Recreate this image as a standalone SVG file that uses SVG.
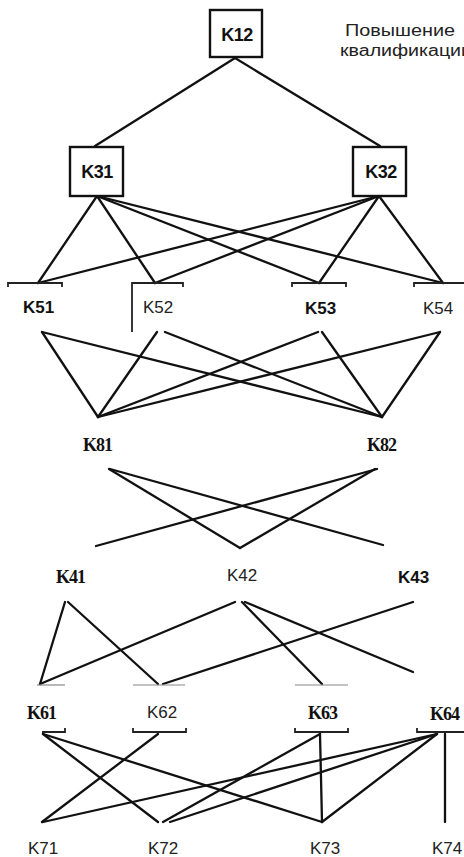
<svg xmlns="http://www.w3.org/2000/svg" width="464" height="857" viewBox="0 0 464 857">
<style>
.ln{stroke:#111;stroke-width:2.3;fill:none;stroke-linecap:round}
.br{stroke:#222;stroke-width:1.8;fill:none}
.brf{stroke:#888;stroke-width:1.2;fill:none}
.box{fill:#fff;stroke:#111;stroke-width:2.4}
.bx{font-family:"Liberation Sans",Arial,sans-serif;font-weight:bold;font-size:18px;fill:#111;letter-spacing:-0.5px}
.sb{font-family:"Liberation Sans",Arial,sans-serif;font-weight:bold;font-size:17px;fill:#111}
.sr{font-family:"Liberation Sans",Arial,sans-serif;font-size:17px;fill:#222}
.tb{font-family:"Liberation Serif","Times New Roman",serif;font-weight:bold;font-size:18px;fill:#111;letter-spacing:-1px}
.cap{font-family:"Liberation Sans",Arial,sans-serif;font-size:16px;fill:#222}
</style>
<rect width="464" height="857" fill="#fff"/>
<g id="connectors">
<line class="ln" x1="235" y1="58" x2="95" y2="146"/>
<line class="ln" x1="235" y1="58" x2="380" y2="146"/>
<line class="ln" x1="97" y1="196" x2="38" y2="283"/>
<line class="ln" x1="97" y1="196" x2="155" y2="283"/>
<line class="ln" x1="97" y1="196" x2="319" y2="283"/>
<line class="ln" x1="97" y1="196" x2="443" y2="283"/>
<line class="ln" x1="379" y1="196" x2="38" y2="283"/>
<line class="ln" x1="379" y1="196" x2="155" y2="283"/>
<line class="ln" x1="379" y1="196" x2="319" y2="283"/>
<line class="ln" x1="379" y1="196" x2="443" y2="283"/>
<line class="ln" x1="42" y1="332" x2="98" y2="417"/>
<line class="ln" x1="42" y1="332" x2="382" y2="417"/>
<line class="ln" x1="157" y1="332" x2="98" y2="417"/>
<line class="ln" x1="165" y1="332" x2="382" y2="417"/>
<line class="ln" x1="318" y1="332" x2="98" y2="417"/>
<line class="ln" x1="322" y1="332" x2="382" y2="417"/>
<line class="ln" x1="440" y1="332" x2="98" y2="417"/>
<line class="ln" x1="440" y1="332" x2="382" y2="417"/>
<line class="ln" x1="109" y1="469" x2="240" y2="548"/>
<line class="ln" x1="110" y1="469" x2="383" y2="545"/>
<line class="ln" x1="377" y1="469" x2="96" y2="546"/>
<line class="ln" x1="375" y1="469" x2="240" y2="548"/>
<line class="ln" x1="65" y1="602" x2="40" y2="684"/>
<line class="ln" x1="68" y1="602" x2="158" y2="684"/>
<line class="ln" x1="235" y1="602" x2="40" y2="684"/>
<line class="ln" x1="242" y1="602" x2="322" y2="684"/>
<line class="ln" x1="245" y1="602" x2="413" y2="672"/>
<line class="ln" x1="413" y1="602" x2="163" y2="684"/>
<line class="ln" x1="43" y1="734" x2="158" y2="822"/>
<line class="ln" x1="43" y1="734" x2="322" y2="822"/>
<line class="ln" x1="158" y1="734" x2="42" y2="822"/>
<line class="ln" x1="320" y1="734" x2="163" y2="822"/>
<line class="ln" x1="320" y1="734" x2="322" y2="822"/>
<line class="ln" x1="437" y1="734" x2="43" y2="822"/>
<line class="ln" x1="437" y1="734" x2="170" y2="822"/>
<line class="ln" x1="437" y1="734" x2="322" y2="822"/>
<line class="ln" x1="445" y1="734" x2="445" y2="822"/>
</g>
<g id="caption">
<text class="cap" x="345" y="36" textLength="110" lengthAdjust="spacingAndGlyphs">Повышение</text>
<text class="cap" x="340" y="56" textLength="132" lengthAdjust="spacingAndGlyphs">квалификации</text>
</g>
<g id="K12"><rect class="box" x="210" y="10" width="52" height="47"/><text class="bx" x="237" y="41" text-anchor="middle">K12</text></g>
<g id="K31"><rect class="box" x="70" y="147" width="53" height="49"/><text class="bx" x="97" y="178" text-anchor="middle">K31</text></g>
<g id="K32"><rect class="box" x="353" y="147" width="53" height="49"/><text class="bx" x="381" y="178" text-anchor="middle">K32</text></g>
<g id="K51"><path class="br" d="M8,287 V283 H62 V287"/><text class="sb" x="23" y="313">K51</text></g>
<g id="K52"><path class="br" d="M183,287 V283 H132 V332"/><text class="sr" x="143" y="313">K52</text></g>
<g id="K53"><path class="br" d="M292,287 V283 H346 V287"/><text class="sb" x="305" y="314">K53</text></g>
<g id="K54"><path class="br" d="M414,287 V283 H464"/><text class="sr" x="423" y="314">K54</text></g>
<g id="K81"><text class="tb" x="83" y="451">K81</text></g>
<g id="K82"><text class="tb" x="367" y="451">K82</text></g>
<g id="K41"><text class="tb" x="56" y="583">K41</text></g>
<g id="K42"><text class="sr" x="227" y="581">K42</text></g>
<g id="K43"><text class="sb" x="398" y="583">K43</text></g>
<g id="K61"><path class="brf" d="M37,685 H65"/><path class="br" d="M42,732 H65 V728"/><text class="tb" x="27" y="719">K61</text></g>
<g id="K62"><path class="brf" d="M133,685 H185"/><path class="br" d="M133,728 V732 H186 V728"/><text class="sr" x="147" y="718">K62</text></g>
<g id="K63"><path class="brf" d="M295,685 H348"/><path class="br" d="M295,728 V732 H348 V728"/><text class="tb" x="308" y="719">K63</text></g>
<g id="K64"><path class="br" d="M417,728 V732 H464"/><text class="tb" x="430" y="720">K64</text></g>
<g id="K71"><text class="sr" x="28" y="854">K71</text></g>
<g id="K72"><text class="sr" x="148" y="854">K72</text></g>
<g id="K73"><text class="sr" x="310" y="854">K73</text></g>
<g id="K74"><text class="sr" x="432" y="854">K74</text></g>
</svg>
